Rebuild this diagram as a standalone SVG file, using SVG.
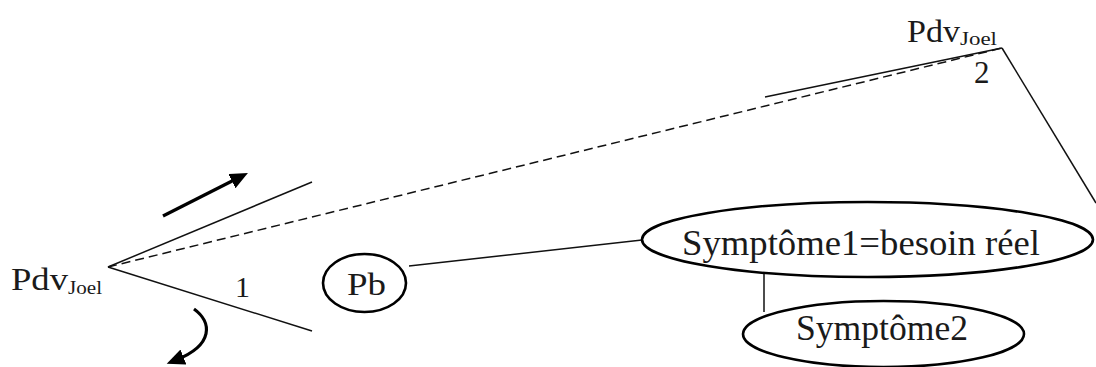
<svg xmlns="http://www.w3.org/2000/svg" width="1096" height="367" viewBox="0 0 1096 367">
<style>
.t{font-family:"Liberation Serif","Times New Roman",serif;fill:#1a1a1a}
.ln{stroke:#111;stroke-width:1.5;fill:none}
.el{stroke:#000;stroke-width:2.6;fill:#fff}
.ar{stroke:#000;stroke-width:3.2;fill:none}
</style>
<defs>
<marker id="ah" markerUnits="userSpaceOnUse" markerWidth="20" markerHeight="18" refX="8" refY="8" orient="auto" viewBox="0 0 20 18">
<path d="M0,0 L18,8 L0,16 z" fill="#000"/>
</marker>
</defs>
<g id="connectors">
<line class="ln" x1="108" y1="267" x2="312" y2="182"/>
<line class="ln" x1="108" y1="267" x2="312" y2="331"/>
<line class="ln" x1="108" y1="267" x2="1002" y2="48" stroke-dasharray="9 5"/>
<line class="ln" x1="765" y1="97" x2="1002" y2="48"/>
<line class="ln" x1="1002" y1="48" x2="1096" y2="203"/>
<line class="ln" x1="409" y1="266" x2="642" y2="240"/>
<line class="ln" x1="764" y1="274" x2="764" y2="312"/>
<line class="ar" x1="163" y1="216" x2="239" y2="177.5" marker-end="url(#ah)"/>
<path class="ar" d="M194,309 C212,322 214,345 176,360" marker-end="url(#ah)"/>
</g>
<g id="pdv-left">
<text class="t" x="11" y="290" font-size="31" textLength="57" lengthAdjust="spacingAndGlyphs">Pdv</text>
<text class="t" x="68" y="294" font-size="18" textLength="34" lengthAdjust="spacingAndGlyphs">Joel</text>
</g>
<g id="label-1"><text class="t" x="235" y="297" font-size="30">1</text></g>
<g id="pdv-top">
<text class="t" x="907" y="42" font-size="31" textLength="53" lengthAdjust="spacingAndGlyphs">Pdv</text>
<text class="t" x="960" y="45" font-size="18" textLength="37" lengthAdjust="spacingAndGlyphs">Joel</text>
</g>
<g id="label-2"><text class="t" x="974" y="83" font-size="31">2</text></g>
<g id="pb">
<ellipse class="el" cx="364.5" cy="283" rx="41.5" ry="29"/>
<text class="t" x="347" y="295" font-size="32" textLength="39" lengthAdjust="spacingAndGlyphs">Pb</text>
</g>
<g id="symptome1">
<ellipse class="el" cx="867.5" cy="239.5" rx="225.5" ry="37.5"/>
<text class="t" x="682" y="255" font-size="35" textLength="358" lengthAdjust="spacingAndGlyphs">Symptôme1=besoin réel</text>
</g>
<g id="symptome2">
<ellipse class="el" cx="883.5" cy="334" rx="140.5" ry="33"/>
<text class="t" x="796" y="340" font-size="35" textLength="172" lengthAdjust="spacingAndGlyphs">Symptôme2</text>
</g>
</svg>
